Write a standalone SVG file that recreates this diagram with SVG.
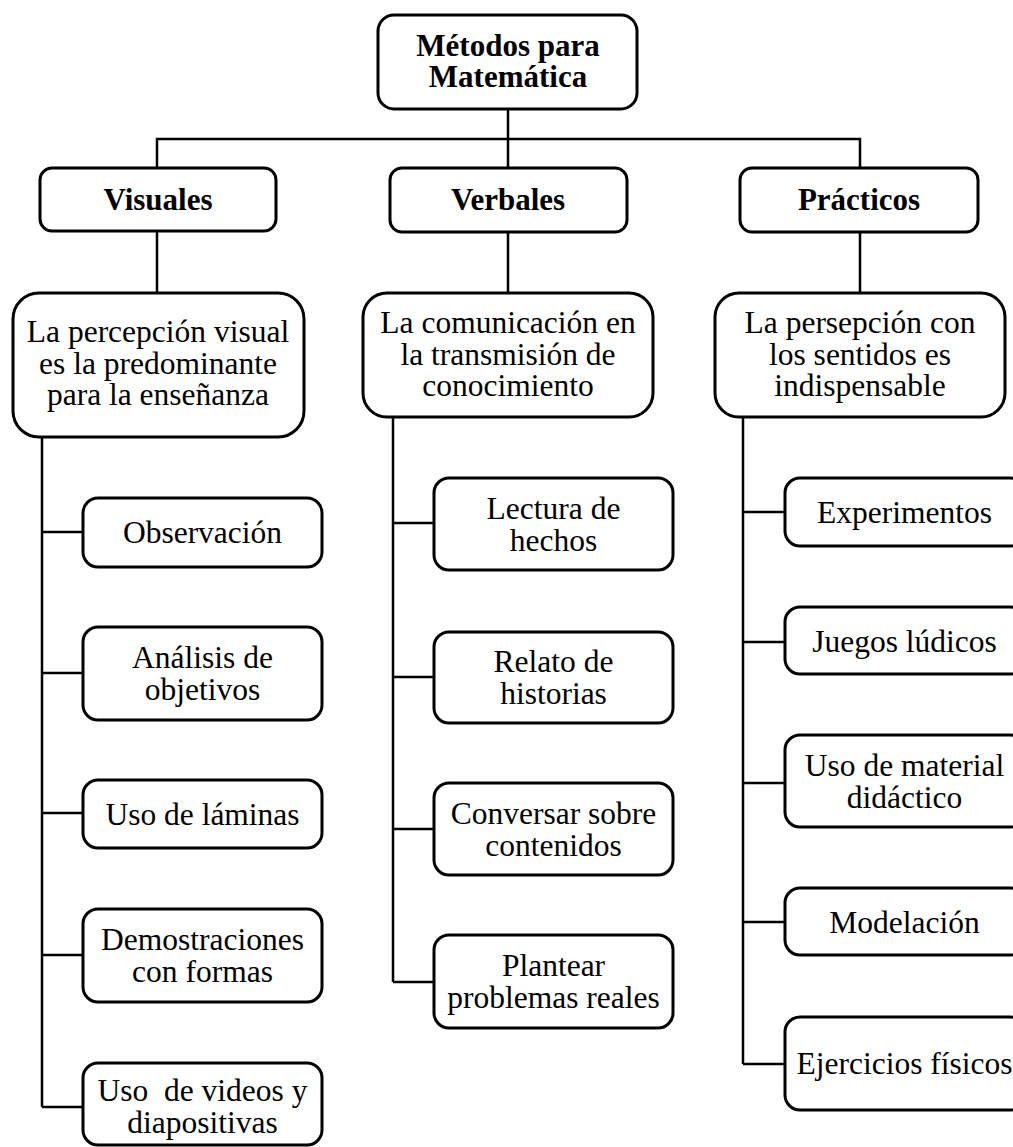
<svg xmlns="http://www.w3.org/2000/svg" width="1013" height="1147" viewBox="0 0 1013 1147">
<style>
.box{fill:#fff;stroke:#000;stroke-width:3}
.con{fill:none;stroke:#000;stroke-width:2.5}
text{font-family:"Liberation Serif","Times New Roman",serif;font-size:31.5px;fill:#000;text-anchor:middle}
.b{font-weight:bold;font-size:31px}
</style>
<rect width="1013" height="1147" fill="#fff"/>
<g id="connectors">
<path class="con" d="M508,110V139M157,168V139H860V168M508,139V168"/>
<path class="con" d="M157,231V293M508,232V293M860,232V293"/>
<path class="con" d="M42,437V1107M42,532H83M42,673H83M42,813H83M42,955H83M42,1107H83"/>
<path class="con" d="M393,417V982M393,523H434M393,677H434M393,829H434M393,982H434"/>
<path class="con" d="M743,417V1064M743,512H785M743,642H785M743,783H785M743,922H785M743,1064H785"/>
</g>
<g id="root"><rect class="box" x="378" y="15" width="259" height="94" rx="16"/><text class="b" x="508" y="56">Métodos para</text><text class="b" x="508" y="87">Matemática</text></g>
<g id="visuales"><rect class="box" x="40" y="168" width="236" height="63" rx="12"/><text class="b" x="158" y="210">Visuales</text></g>
<g id="verbales"><rect class="box" x="390" y="168" width="237" height="64" rx="12"/><text class="b" x="508" y="210">Verbales</text></g>
<g id="practicos"><rect class="box" x="740" y="168" width="238" height="64" rx="12"/><text class="b" x="859" y="210">Prácticos</text></g>
<g id="vis-desc"><rect class="box" x="13" y="293" width="291" height="144" rx="26"/><text x="158" y="342">La percepción visual</text><text x="158" y="373.5">es la predominante</text><text x="158" y="405">para la enseñanza</text></g>
<g id="ver-desc"><rect class="box" x="363" y="293" width="290" height="124" rx="24"/><text x="508" y="333">La comunicación en</text><text x="508" y="364.5">la transmisión de</text><text x="508" y="396">conocimiento</text></g>
<g id="pra-desc"><rect class="box" x="715" y="293" width="290" height="124" rx="24"/><text x="860" y="333">La persepción con</text><text x="860" y="364.5">los sentidos es</text><text x="860" y="396">indispensable</text></g>
<g id="observacion"><rect class="box" x="83" y="498" width="239" height="69" rx="15"/><text x="202.5" y="543">Observación</text></g>
<g id="analisis"><rect class="box" x="83" y="627" width="239" height="93" rx="15"/><text x="202.5" y="668">Análisis de</text><text x="202.5" y="699.5">objetivos</text></g>
<g id="laminas"><rect class="box" x="83" y="780" width="239" height="68" rx="15"/><text x="202.5" y="824.5">Uso de láminas</text></g>
<g id="demostraciones"><rect class="box" x="83" y="909" width="239" height="93" rx="15"/><text x="202.5" y="950">Demostraciones</text><text x="202.5" y="981.5">con formas</text></g>
<g id="videos"><rect class="box" x="83" y="1063" width="239" height="82" rx="15"/><text x="202.5" y="1101" style="white-space:pre">Uso  de videos y</text><text x="202.5" y="1133">diapositivas</text></g>
<g id="lectura"><rect class="box" x="434" y="478" width="239" height="92" rx="15"/><text x="553.5" y="519">Lectura de</text><text x="553.5" y="550.5">hechos</text></g>
<g id="relato"><rect class="box" x="434" y="632" width="239" height="91" rx="15"/><text x="553.5" y="672">Relato de</text><text x="553.5" y="703.5">historias</text></g>
<g id="conversar"><rect class="box" x="434" y="783" width="239" height="92" rx="15"/><text x="553.5" y="824">Conversar sobre</text><text x="553.5" y="855.5">contenidos</text></g>
<g id="plantear"><rect class="box" x="434" y="935" width="239" height="93" rx="15"/><text x="553.5" y="976">Plantear</text><text x="553.5" y="1007.5">problemas reales</text></g>
<g id="experimentos"><rect class="box" x="785" y="478" width="240" height="68" rx="15"/><text x="904.5" y="522.5">Experimentos</text></g>
<g id="juegos"><rect class="box" x="785" y="607" width="240" height="67" rx="15"/><text x="904.5" y="651.5">Juegos lúdicos</text></g>
<g id="material"><rect class="box" x="785" y="735" width="240" height="92" rx="15"/><text x="904.5" y="776">Uso de material</text><text x="904.5" y="807.5">didáctico</text></g>
<g id="modelacion"><rect class="box" x="785" y="888" width="240" height="67" rx="15"/><text x="904.5" y="932.5">Modelación</text></g>
<g id="ejercicios"><rect class="box" x="785" y="1017" width="240" height="93" rx="15"/><text x="904.5" y="1074">Ejercicios físicos</text></g>
</svg>
